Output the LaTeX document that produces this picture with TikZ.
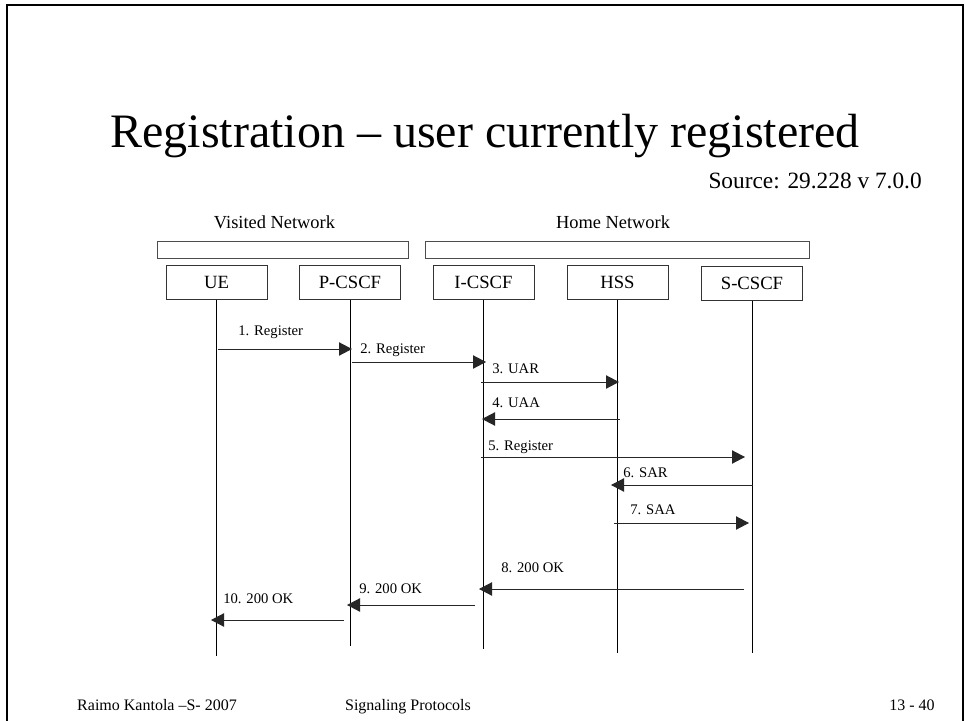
\documentclass[tikz,border=0pt]{standalone}
\usepackage{fontspec}
\setmainfont{Liberation Serif}
\usetikzlibrary{arrows.meta}
\begin{document}
\begin{tikzpicture}[x=0.75pt,y=-0.75pt,
  ent/.style={draw=black!80, line width=0.75pt, minimum width=75.75pt, minimum height=25.5pt, inner sep=0pt, font=\fontsize{14}{16}\selectfont},
  grp/.style={draw=black!70, line width=0.75pt, minimum height=12.75pt, inner sep=0pt},
  life/.style={draw=black, line width=0.75pt},
  msg/.style={draw=black!85, line width=0.75pt, -{Triangle[length=9.75pt,width=10pt]}},
  lbl/.style={anchor=base west, inner sep=0pt, font=\fontsize{11}{13}\selectfont},
  foot/.style={anchor=base, inner sep=0pt, font=\fontsize{12}{14}\selectfont}
]
\useasboundingbox (0,0) rectangle (965,721);
\fill[white] (0,0) rectangle (965,721);
% frame
\draw[line width=1.6pt] (7,724) -- (7,5) -- (963,5) -- (963,724);

% title
\node[anchor=base, inner sep=0pt, font=\fontsize{36}{40}\selectfont] (title) at (485,147) {Registration -- user currently registered};
\node[anchor=base east, inner sep=0pt, font=\fontsize{17.5}{19}\selectfont] (source) at (922,188) {Source: 29.228 v 7.0.0};

% networks
\node[anchor=base, inner sep=0pt, font=\fontsize{13.8}{15}\selectfont] (vislbl) at (274.5,228) {Visited Network};
\node[anchor=base, inner sep=0pt, font=\fontsize{13.8}{15}\selectfont] (homelbl) at (613,228) {Home Network};
\node[grp, minimum width=188.25pt] (visbar) at (282.5,249.5) {};
\node[grp, minimum width=288pt] (homebar) at (617,249.5) {};

% entities
\node[ent] (ue) at (216.5,282) {UE};
\node[ent] (pcscf) at (350,282) {P-CSCF};
\node[ent] (icscf) at (483.5,282) {I-CSCF};
\node[ent] (hss) at (617.5,282) {HSS};
\node[ent] (scscf) at (752,283) {S-CSCF};

% lifelines
\coordinate (ueEnd) at (216.5,656);
\coordinate (pEnd) at (350,646);
\coordinate (iEnd) at (483.5,649);
\coordinate (hEnd) at (617.5,653);
\coordinate (sEnd) at (752,653);
\draw[life] (ue.south) -- (ueEnd);
\draw[life] (pcscf.south) -- (pEnd);
\draw[life] (icscf.south) -- (iEnd);
\draw[life] (hss.south) -- (hEnd);
\draw[life] (scscf.south) -- (sEnd);

% messages
\coordinate (m1a) at (218,349); \coordinate (m1b) at (352,349);
\coordinate (m2a) at (352,362); \coordinate (m2b) at (486,362);
\coordinate (m3a) at (481,382); \coordinate (m3b) at (619,382);
\coordinate (m4a) at (620,419); \coordinate (m4b) at (482,419);
\coordinate (m5a) at (481,457); \coordinate (m5b) at (745,457);
\coordinate (m6a) at (753,485); \coordinate (m6b) at (611,485);
\coordinate (m7a) at (614,523); \coordinate (m7b) at (749,523);
\coordinate (m8a) at (744,589); \coordinate (m8b) at (479,589);
\coordinate (m9a) at (475,605); \coordinate (m9b) at (347,605);
\coordinate (m10a) at (344,620); \coordinate (m10b) at (211,620);
\draw[msg] (m1a) -- (m1b);
\draw[msg] (m2a) -- (m2b);
\draw[msg] (m3a) -- (m3b);
\draw[msg] (m4a) -- (m4b);
\draw[msg] (m5a) -- (m5b);
\draw[msg] (m6a) -- (m6b);
\draw[msg] (m7a) -- (m7b);
\draw[msg] (m8a) -- (m8b);
\draw[msg] (m9a) -- (m9b);
\draw[msg] (m10a) -- (m10b);

% labels
\node[lbl] (l1) at (238,335) {1. Register};
\node[lbl] (l2) at (360,353) {2. Register};
\node[lbl] (l3) at (492,373) {3. UAR};
\node[lbl] (l4) at (492,407) {4. UAA};
\node[lbl] (l5) at (488,450) {5. Register};
\node[lbl] (l6) at (623,477) {6. SAR};
\node[lbl] (l7) at (630,514) {7. SAA};
\node[lbl] (l8) at (501,572) {8. 200 OK};
\node[lbl] (l9) at (359,593) {9. 200 OK};
\node[lbl] (l10) at (223,603) {10. 200 OK};

% footer
\node[foot] (f1) at (157,710) {Raimo Kantola --S- 2007};
\node[foot] (f2) at (408,710) {Signaling Protocols};
\node[foot] (f3) at (912,710) {13 - 40};
\end{tikzpicture}
\end{document}
